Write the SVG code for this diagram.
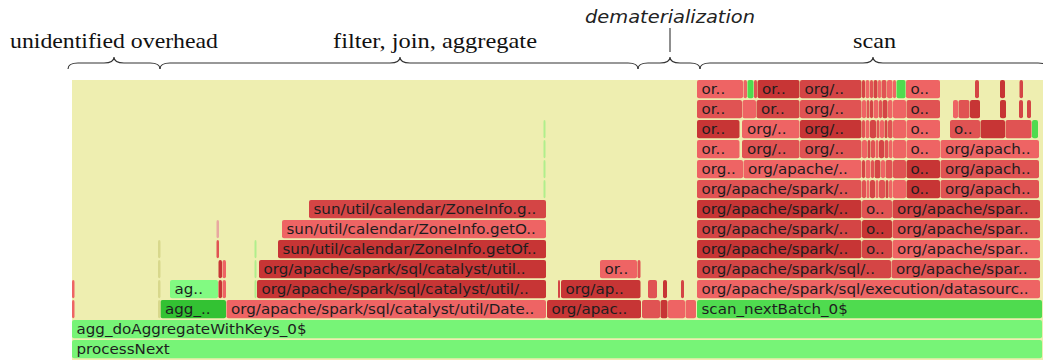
<svg xmlns="http://www.w3.org/2000/svg" width="1043" height="360" viewBox="0 0 1043 360">
<style>
.bg{fill:#EEEEB0}
rect.f{rx:2px;ry:2px}
.g1{fill:#77F477}.g2{fill:#4FDB4F}.g3{fill:#33C233}.g4{fill:#82FA82}
.r1{fill:#EE6464}.r2{fill:#E05353}.r3{fill:#D44545}.r4{fill:#C73535}
.ys{fill:#D8D88C}.gs{fill:#B0EE8C}.ps{fill:#E8A8A0}
.t{font-family:"DejaVu Sans",sans-serif;font-size:13.5px;fill:#1e1e1e}
.ann{font-family:"Liberation Serif",serif;font-size:21px;fill:#111}
.dem{font-family:"DejaVu Sans",sans-serif;font-style:italic;font-size:18.5px;fill:#222}
.br{fill:none;stroke:#333;stroke-width:1.1}
</style>
<rect class="bg" x="72" y="80" width="971" height="280"/>
<g id="annotations">
<text class="ann" x="10" y="48" textLength="208" lengthAdjust="spacingAndGlyphs">unidentified overhead</text>
<text class="ann" x="333" y="48" textLength="204" lengthAdjust="spacingAndGlyphs">filter, join, aggregate</text>
<text class="ann" x="853" y="48" textLength="43" lengthAdjust="spacingAndGlyphs">scan</text>
<text class="dem" x="585" y="23" textLength="170" lengthAdjust="spacingAndGlyphs">dematerialization</text>
</g>
<g id="connectors">
<path class="br" d="M68,69 C68,65 71,63 78,63 L104,63 C110,63 114,62 114,57 C114,62 118,63 124,63 L150,63 C157,63 160,65 160,69"/>
<path class="br" d="M160,69 C160,65 163,63 170,63 L390,63 C396,63 400,62 400,57 C400,62 404,63 410,63 L628,63 C635,63 638,65 638,69"/>
<path class="br" d="M638,69 C638,65 641,63 648,63 L660,63 C666,63 670,62 670,57 C670,62 674,63 680,63 L690,63 C697,63 700,65 700,69"/>
<path class="br" d="M700,69 C700,65 703,63 710,63 L863,63 C869,63 873,62 873,57 C873,62 877,63 883,63 L1038,63 C1045,63 1048,65 1048,69"/>
<path class="br" d="M670,28 L670,52"/>
</g>
<!-- row 340 / 320 -->
<g id="f-processNext"><rect class="f g1" x="72" y="340" width="970" height="18.3"/><text class="t" transform="translate(76.5,353.5) scale(1.12,1)">processNext</text></g>
<g id="f-agg-doAggregate"><rect class="f g1" x="72" y="320" width="970" height="18.3"/><text class="t" transform="translate(76.5,333.5) scale(1.12,1)">agg_doAggregateWithKeys_0$</text></g>
<!-- row 300 -->
<g id="f-agg-short"><rect class="f g3" x="160.5" y="300" width="65.5" height="18.3"/><text class="t" transform="translate(165,313.5) scale(1.12,1)">agg_..</text></g>
<g id="f-date"><rect class="f r1" x="226.5" y="300" width="319.5" height="18.3"/><text class="t" transform="translate(231,313.5) scale(1.12,1)">org/apache/spark/sql/catalyst/util/Date..</text></g>
<g id="f-apac"><rect class="f r4" x="547" y="300" width="94" height="18.3"/><text class="t" transform="translate(551.5,313.5) scale(1.12,1)">org/apac..</text></g>
<g id="f-scan-nextBatch"><rect class="f g2" x="697" y="300" width="345" height="18.3"/><text class="t" transform="translate(701.5,313.5) scale(1.12,1)">scan_nextBatch_0$</text></g>
<!-- row 280 -->
<g id="f-ag"><rect class="f g4" x="170" y="280" width="48" height="18.3"/><text class="t" transform="translate(174.5,293.5) scale(1.12,1)">ag..</text></g>
<g id="f-catalyst-util-slash"><rect class="f r4" x="257" y="280" width="289" height="18.3"/><text class="t" transform="translate(261.5,293.5) scale(1.12,1)">org/apache/spark/sql/catalyst/util/..</text></g>
<g id="f-org-ap"><rect class="f r4" x="561" y="280" width="79.5" height="18.3"/><text class="t" transform="translate(565.5,293.5) scale(1.12,1)">org/ap..</text></g>
<g id="f-datasource"><rect class="f r1" x="697" y="280" width="343" height="18.3"/><text class="t" transform="translate(701.5,293.5) scale(1.12,1)">org/apache/spark/sql/execution/datasourc..</text></g>
<!-- row 260 -->
<g id="f-catalyst-util"><rect class="f r4" x="259" y="260" width="287" height="18.3"/><text class="t" transform="translate(263.5,273.5) scale(1.12,1)">org/apache/spark/sql/catalyst/util..</text></g>
<g id="f-or-260"><rect class="f r1" x="600" y="260" width="37" height="18.3"/><text class="t" transform="translate(604.5,273.5) scale(1.12,1)">or..</text></g>
<g id="f-spark-sql-260"><rect class="f r3" x="697" y="260" width="194" height="18.3"/><text class="t" transform="translate(701.5,273.5) scale(1.12,1)">org/apache/spark/sql/..</text></g>
<g id="f-spar-260"><rect class="f r2" x="891.5" y="260" width="148.5" height="18.3"/><text class="t" transform="translate(896,273.5) scale(1.12,1)">org/apache/spar..</text></g>
<!-- row 240 -->
<g id="f-zone-getOf"><rect class="f r4" x="278" y="240" width="268" height="18.3"/><text class="t" transform="translate(282.5,253.5) scale(1.12,1)">sun/util/calendar/ZoneInfo.getOf..</text></g>
<g id="f-spark-240"><rect class="f r4" x="697" y="240" width="164.5" height="18.3"/><text class="t" transform="translate(701.5,253.5) scale(1.12,1)">org/apache/spark/..</text></g>
<g id="f-o-240"><rect class="f r3" x="862" y="240" width="30" height="18.3"/><text class="t" transform="translate(866,253.5) scale(1.12,1)">o..</text></g>
<g id="f-spar-240"><rect class="f r1" x="892.5" y="240" width="147.5" height="18.3"/><text class="t" transform="translate(897,253.5) scale(1.12,1)">org/apache/spar..</text></g>
<!-- row 220 -->
<g id="f-zone-getO"><rect class="f r1" x="282" y="220" width="264" height="18.3"/><text class="t" transform="translate(286.5,233.5) scale(1.12,1)">sun/util/calendar/ZoneInfo.getO..</text></g>
<g id="f-spark-220"><rect class="f r3" x="697" y="220" width="164.5" height="18.3"/><text class="t" transform="translate(701.5,233.5) scale(1.12,1)">org/apache/spark/..</text></g>
<g id="f-o-220"><rect class="f r4" x="862" y="220" width="30" height="18.3"/><text class="t" transform="translate(866,233.5) scale(1.12,1)">o..</text></g>
<g id="f-spar-220"><rect class="f r2" x="892.5" y="220" width="147.5" height="18.3"/><text class="t" transform="translate(897,233.5) scale(1.12,1)">org/apache/spar..</text></g>
<!-- row 200 -->
<g id="f-zone-g"><rect class="f r3" x="309" y="200" width="237" height="18.3"/><text class="t" transform="translate(313.5,213.5) scale(1.12,1)">sun/util/calendar/ZoneInfo.g..</text></g>
<g id="f-spark-200"><rect class="f r4" x="697" y="200" width="164.5" height="18.3"/><text class="t" transform="translate(701.5,213.5) scale(1.12,1)">org/apache/spark/..</text></g>
<g id="f-o-200"><rect class="f r2" x="862" y="200" width="30" height="18.3"/><text class="t" transform="translate(866,213.5) scale(1.12,1)">o..</text></g>
<g id="f-spar-200"><rect class="f r3" x="892.5" y="200" width="147.5" height="18.3"/><text class="t" transform="translate(897,213.5) scale(1.12,1)">org/apache/spar..</text></g>
<!-- row 180 -->
<g id="f-spark-180"><rect class="f r2" x="697" y="180" width="164.5" height="18.3"/><text class="t" transform="translate(701.5,193.5) scale(1.12,1)">org/apache/spark/..</text></g>
<g id="f-o-180"><rect class="f r4" x="906.5" y="180" width="33.5" height="18.3"/><text class="t" transform="translate(910.5,193.5) scale(1.12,1)">o..</text></g>
<g id="f-apach-180"><rect class="f r2" x="940.5" y="180" width="98.5" height="18.3"/><text class="t" transform="translate(945,193.5) scale(1.12,1)">org/apach..</text></g>
<!-- row 160 -->
<g id="f-org-160"><rect class="f r1" x="697" y="160" width="46" height="18.3"/><text class="t" transform="translate(701.5,173.5) scale(1.12,1)">org..</text></g>
<g id="f-apache-160"><rect class="f r1" x="743.5" y="160" width="118" height="18.3"/><text class="t" transform="translate(748,173.5) scale(1.12,1)">org/apache/..</text></g>
<g id="f-o-160"><rect class="f r4" x="906.5" y="160" width="33.5" height="18.3"/><text class="t" transform="translate(910.5,173.5) scale(1.12,1)">o..</text></g>
<g id="f-apach-160"><rect class="f r2" x="940.5" y="160" width="98.5" height="18.3"/><text class="t" transform="translate(945,173.5) scale(1.12,1)">org/apach..</text></g>
<!-- row 140 -->
<g id="f-or-140"><rect class="f r1" x="697" y="140" width="42.5" height="18.3"/><text class="t" transform="translate(701.5,153.5) scale(1.12,1)">or..</text></g>
<g id="f-org-140a"><rect class="f r2" x="742" y="140" width="57.5" height="18.3"/><text class="t" transform="translate(747,153.5) scale(1.12,1)">org/..</text></g>
<g id="f-org-140b"><rect class="f r2" x="800" y="140" width="61.5" height="18.3"/><text class="t" transform="translate(804.5,153.5) scale(1.12,1)">org/..</text></g>
<g id="f-o-140"><rect class="f r1" x="906.5" y="140" width="33.5" height="18.3"/><text class="t" transform="translate(910.5,153.5) scale(1.12,1)">o..</text></g>
<g id="f-apach-140"><rect class="f r1" x="940.5" y="140" width="98.5" height="18.3"/><text class="t" transform="translate(945,153.5) scale(1.12,1)">org/apach..</text></g>
<!-- row 120 -->
<g id="f-or-120"><rect class="f r4" x="697" y="120" width="42.5" height="18.3"/><text class="t" transform="translate(701.5,133.5) scale(1.12,1)">or..</text></g>
<g id="f-org-120a"><rect class="f r1" x="742" y="120" width="57.5" height="18.3"/><text class="t" transform="translate(747,133.5) scale(1.12,1)">org/..</text></g>
<g id="f-org-120b"><rect class="f r4" x="800" y="120" width="61.5" height="18.3"/><text class="t" transform="translate(804.5,133.5) scale(1.12,1)">org/..</text></g>
<g id="f-o-120"><rect class="f r1" x="906.5" y="120" width="33.5" height="18.3"/><text class="t" transform="translate(910.5,133.5) scale(1.12,1)">o..</text></g>
<g id="f-o-120b"><rect class="f r2" x="950" y="120" width="30" height="18.3"/><text class="t" transform="translate(954,133.5) scale(1.12,1)">o..</text></g>
<!-- row 100 -->
<g id="f-or-100"><rect class="f r2" x="697" y="100" width="45" height="18.3"/><text class="t" transform="translate(701.5,113.5) scale(1.12,1)">or..</text></g>
<g id="f-or-100b"><rect class="f r3" x="756.5" y="100" width="43" height="18.3"/><text class="t" transform="translate(761,113.5) scale(1.12,1)">or..</text></g>
<g id="f-org-100"><rect class="f r2" x="800" y="100" width="61.5" height="18.3"/><text class="t" transform="translate(804.5,113.5) scale(1.12,1)">org/..</text></g>
<g id="f-o-100"><rect class="f r2" x="906.5" y="100" width="33.5" height="18.3"/><text class="t" transform="translate(910.5,113.5) scale(1.12,1)">o..</text></g>
<!-- row 80 -->
<g id="f-or-80"><rect class="f r1" x="697" y="80" width="46" height="18.3"/><text class="t" transform="translate(701.5,93.5) scale(1.12,1)">or..</text></g>
<g id="f-or-80b"><rect class="f r4" x="757.5" y="80" width="42" height="18.3"/><text class="t" transform="translate(762,93.5) scale(1.12,1)">or..</text></g>
<g id="f-org-80"><rect class="f r3" x="800" y="80" width="61.5" height="18.3"/><text class="t" transform="translate(804.5,93.5) scale(1.12,1)">org/..</text></g>
<g id="f-o-80"><rect class="f r1" x="906" y="80" width="34" height="18.3"/><text class="t" transform="translate(910.5,93.5) scale(1.12,1)">o..</text></g>
<!-- unlabeled narrow frames -->
<g id="slivers-left">
<rect class="f r1" x="72" y="300" width="2.5" height="18.3"/>
<rect class="f r1" x="72" y="280" width="2.5" height="18.3"/>
<rect class="f ys" x="158" y="300" width="2.5" height="18.3"/>
<rect class="f ys" x="158" y="280" width="2.5" height="18.3"/>
<rect class="f ys" x="158" y="260" width="2.5" height="18.3"/>
<rect class="f ys" x="158" y="240" width="2.5" height="18.3"/>
<rect class="f r4" x="218.5" y="280" width="3.5" height="18.3"/>
<rect class="f r1" x="222.5" y="280" width="3.5" height="18.3"/>
<rect class="f r4" x="218.5" y="260" width="3.5" height="18.3"/>
<rect class="f r1" x="222.5" y="260" width="3.5" height="18.3"/>
<rect class="f r2" x="216.5" y="240" width="2.5" height="18.3"/>
<rect class="f ps" x="216.5" y="220" width="2.5" height="18.3"/>
<rect class="f gs" x="254.5" y="280" width="2" height="18.3"/>
<rect class="f gs" x="254.5" y="260" width="2" height="18.3"/>
<rect class="f gs" x="254.5" y="240" width="2" height="18.3"/>
</g>
<g id="slivers-middle">
<rect class="f gs" x="543.5" y="180" width="2" height="18.3"/>
<rect class="f gs" x="543.5" y="160" width="2" height="18.3"/>
<rect class="f gs" x="543.5" y="140" width="2" height="18.3"/>
<rect class="f gs" x="543.5" y="120" width="2" height="18.3"/>
<rect class="f r2" x="642" y="300" width="18" height="18.3"/>
<rect class="f r4" x="660.5" y="300" width="7" height="18.3"/>
<rect class="f r1" x="668" y="300" width="17" height="18.3"/>
<rect class="f r1" x="685.5" y="300" width="10.5" height="18.3"/>
<rect class="f r3" x="558" y="280" width="2" height="18.3"/>
<rect class="f r2" x="648" y="280" width="9" height="18.3"/>
<rect class="f r4" x="663" y="280" width="4" height="18.3"/>
<rect class="f r3" x="681" y="280" width="3" height="18.3"/>
<rect class="f r2" x="637.5" y="260" width="3" height="18.3"/>
</g>
<g id="slivers-scan">
<rect class="f r1" x="742.5" y="100" width="13.5" height="18.3"/>
<rect class="f r1" x="743.5" y="80" width="3.5" height="18.3"/>
<rect class="f g2" x="747.5" y="80" width="6" height="18.3"/>
<rect class="f r2" x="754" y="80" width="3" height="18.3"/>
<rect class="f r1" x="893" y="180" width="13" height="18.3"/>
<rect class="f r2" x="893" y="160" width="13" height="18.3"/>
<rect class="f r1" x="893" y="140" width="13" height="18.3"/>
<rect class="f r1" x="893" y="120" width="13" height="18.3"/>
<rect class="f r1" x="893" y="100" width="13" height="18.3"/>
<rect class="f r1" x="893" y="80" width="3" height="18.3"/>
<rect class="f g2" x="896.5" y="80" width="9" height="18.3"/>
<rect class="f r4" x="980.5" y="120" width="24.5" height="18.3"/>
<rect class="f r2" x="1005.5" y="120" width="26" height="18.3"/>
<rect class="f g2" x="1032" y="120" width="6" height="18.3"/>
<rect class="f r1" x="953" y="100" width="5" height="18.3"/>
<rect class="f r2" x="958.5" y="100" width="11" height="18.3"/>
<rect class="f r4" x="970" y="100" width="10" height="18.3"/>
<rect class="f r4" x="1000" y="100" width="6" height="18.3"/>
<rect class="f r3" x="1019" y="100" width="4" height="18.3"/>
<rect class="f r3" x="1027" y="100" width="4" height="18.3"/>
<rect class="f r3" x="975" y="80" width="4" height="18.3"/>
<rect class="f r4" x="1000" y="80" width="5" height="18.3"/>
<rect class="f r3" x="1019.5" y="80" width="3.5" height="18.3"/>
</g>
<g id="stripes">
<rect class="f r2" x="862" y="180" width="4" height="18.3"/><rect class="f r1" x="866.5" y="180" width="3" height="18.3"/><rect class="f r3" x="870" y="180" width="5" height="18.3"/><rect class="f r1" x="875.5" y="180" width="3" height="18.3"/><rect class="f r2" x="879" y="180" width="6" height="18.3"/><rect class="f r3" x="885.5" y="180" width="3" height="18.3"/><rect class="f r1" x="889" y="180" width="3.5" height="18.3"/>
<rect class="f r3" x="862" y="160" width="3" height="18.3"/><rect class="f r1" x="865.5" y="160" width="5" height="18.3"/><rect class="f r2" x="871" y="160" width="3" height="18.3"/><rect class="f r3" x="874.5" y="160" width="6" height="18.3"/><rect class="f r1" x="881" y="160" width="4" height="18.3"/><rect class="f r2" x="885.5" y="160" width="7" height="18.3"/>
<rect class="f r1" x="862" y="140" width="5" height="18.3"/><rect class="f r3" x="867.5" y="140" width="3" height="18.3"/><rect class="f r2" x="871" y="140" width="4" height="18.3"/><rect class="f r1" x="875.5" y="140" width="3" height="18.3"/><rect class="f r3" x="879" y="140" width="5" height="18.3"/><rect class="f r2" x="884.5" y="140" width="4" height="18.3"/><rect class="f r1" x="889" y="140" width="3.5" height="18.3"/>
<rect class="f r2" x="862" y="120" width="3" height="18.3"/><rect class="f r1" x="865.5" y="120" width="4" height="18.3"/><rect class="f r3" x="870" y="120" width="6" height="18.3"/><rect class="f r2" x="876.5" y="120" width="3" height="18.3"/><rect class="f r1" x="880" y="120" width="4" height="18.3"/><rect class="f r3" x="884.5" y="120" width="3" height="18.3"/><rect class="f r2" x="888" y="120" width="4.5" height="18.3"/>
<rect class="f r1" x="862" y="100" width="4" height="18.3"/><rect class="f r2" x="866.5" y="100" width="3" height="18.3"/><rect class="f r3" x="870" y="100" width="3" height="18.3"/><rect class="f r1" x="873.5" y="100" width="5" height="18.3"/><rect class="f r2" x="879" y="100" width="3" height="18.3"/><rect class="f r3" x="882.5" y="100" width="5" height="18.3"/><rect class="f r1" x="888" y="100" width="4.5" height="18.3"/>
<rect class="f r3" x="862" y="80" width="3" height="18.3"/><rect class="f r1" x="865.5" y="80" width="4" height="18.3"/><rect class="f r2" x="870" y="80" width="3" height="18.3"/><rect class="f r3" x="873.5" y="80" width="4" height="18.3"/><rect class="f r1" x="878" y="80" width="3" height="18.3"/><rect class="f r2" x="881.5" y="80" width="5" height="18.3"/><rect class="f r1" x="887" y="80" width="5.5" height="18.3"/>
</g>
</svg>
